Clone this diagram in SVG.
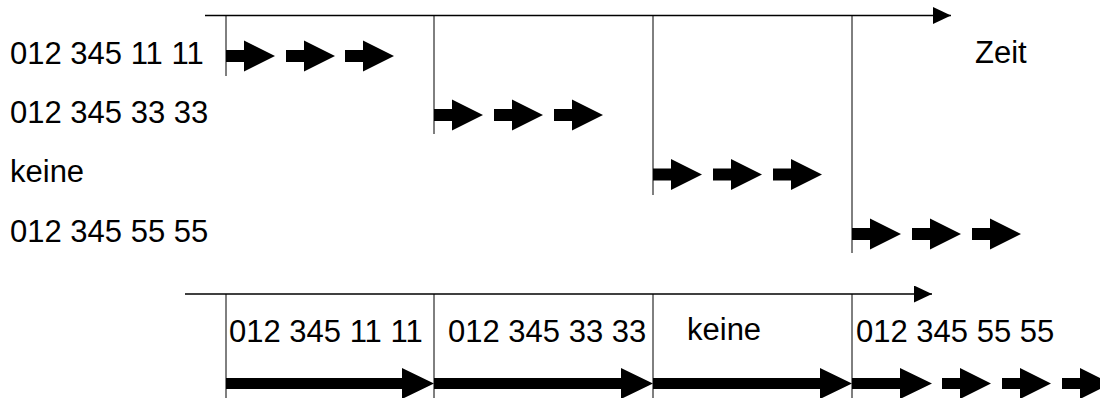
<svg xmlns="http://www.w3.org/2000/svg" width="1100" height="398" viewBox="0 0 1100 398">
  <style>
    text { font-family: "Liberation Sans", Arial, sans-serif; font-size: 31px; fill: #000; }
    .axis { stroke: #000; stroke-width: 1.5; fill: none; }
    .tick { stroke: #000; stroke-width: 1; fill: none; }
    .blk { fill: #000; stroke: none; }
  </style>
  <defs>
    <!-- short block arrow, origin at left end of the shaft centre line -->
    <path id="step" d="M0,-6 H18 V-15.5 L49,0 L18,15.5 V6 H0 Z"/>
    <marker id="axisHead" markerUnits="userSpaceOnUse" markerWidth="20" markerHeight="18" refX="18" refY="8.5" orient="auto">
      <path d="M0,0 L18,8.5 L0,17 Z" fill="#000"/>
    </marker>
  </defs>

  <!-- upper time axis -->
  <g id="axis-top">
    <line class="axis" x1="205" y1="15.5" x2="951" y2="15.5" marker-end="url(#axisHead)"/>
    <text x="975" y="63">Zeit</text>
  </g>

  <!-- one row per dialled number, each starting at its own tick -->
  <g id="row-1">
    <text x="10" y="64">012 345 11 11</text>
    <line class="tick" x1="226" y1="15.5" x2="226" y2="76"/>
    <use href="#step" class="blk" x="226" y="56"/>
    <use href="#step" class="blk" x="286" y="56"/>
    <use href="#step" class="blk" x="345" y="56"/>
  </g>
  <g id="row-2">
    <text x="10" y="123">012 345 33 33</text>
    <line class="tick" x1="434" y1="15.5" x2="434" y2="134"/>
    <use href="#step" class="blk" x="434" y="115"/>
    <use href="#step" class="blk" x="494" y="115"/>
    <use href="#step" class="blk" x="554" y="115"/>
  </g>
  <g id="row-3">
    <text x="10" y="182">keine</text>
    <line class="tick" x1="653" y1="15.5" x2="653" y2="195"/>
    <use href="#step" class="blk" x="653" y="174.5"/>
    <use href="#step" class="blk" x="713" y="174.5"/>
    <use href="#step" class="blk" x="773" y="174.5"/>
  </g>
  <g id="row-4">
    <text x="10" y="242">012 345 55 55</text>
    <line class="tick" x1="852" y1="15.5" x2="852" y2="253"/>
    <use href="#step" class="blk" x="852" y="234"/>
    <use href="#step" class="blk" x="912" y="234"/>
    <use href="#step" class="blk" x="972" y="234"/>
  </g>

  <!-- lower combined time axis -->
  <g id="axis-bottom">
    <line class="axis" x1="185" y1="294" x2="932" y2="294" marker-end="url(#axisHead)"/>
    <line class="tick" x1="226" y1="294" x2="226" y2="398"/>
    <line class="tick" x1="434" y1="294" x2="434" y2="398"/>
    <line class="tick" x1="653" y1="294" x2="653" y2="398"/>
    <line class="tick" x1="852" y1="294" x2="852" y2="398"/>
  </g>

  <g id="seg-1">
    <text x="229" y="342">012 345 11 11</text>
    <path class="blk" d="M226,378 H402 V368 L434,383.5 L402,399 V389 H226 Z"/>
  </g>
  <g id="seg-2">
    <text x="448" y="342">012 345 33 33</text>
    <path class="blk" d="M434,378 H621 V368 L653,383.5 L621,399 V389 H434 Z"/>
  </g>
  <g id="seg-3">
    <text x="687" y="340">keine</text>
    <path class="blk" d="M653,378 H820 V368 L852,383.5 L820,399 V389 H653 Z"/>
  </g>
  <g id="seg-4">
    <text x="856" y="342">012 345 55 55</text>
    <path class="blk" d="M852,378 H900 V368 L932,383.5 L900,399 V389 H852 Z"/>
    <path class="blk" d="M942,378 H960 V368 L991,383.5 L960,399 V389 H942 Z"/>
    <path class="blk" d="M1002,378 H1020 V368 L1051,383.5 L1020,399 V389 H1002 Z"/>
    <path class="blk" d="M1062,378 H1080 V368 L1111,383.5 L1080,399 V389 H1062 Z"/>
  </g>
</svg>
